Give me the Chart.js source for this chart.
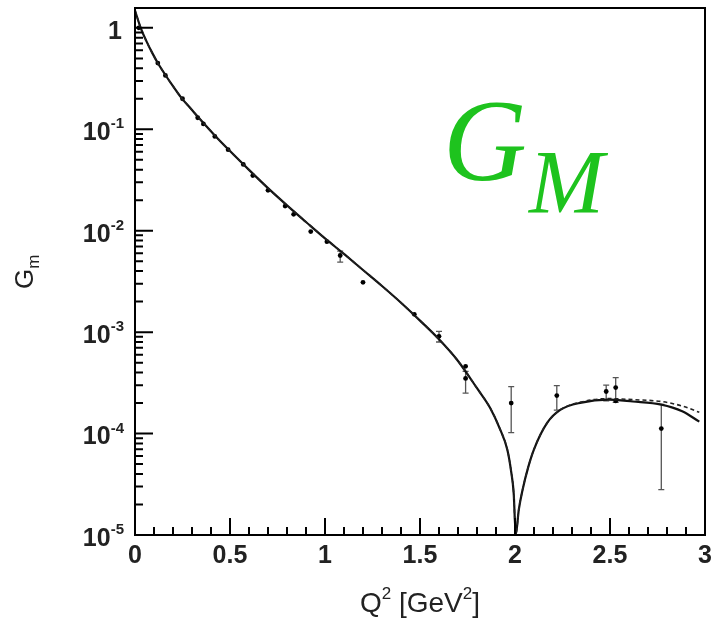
<!DOCTYPE html>
<html lang="en">
<head>
  <meta charset="UTF-8">
  <title>G_M vs Q^2</title>
  <script src="https://cdn.jsdelivr.net/npm/chart.js"></script>
  <style>
    html, body { margin: 0; padding: 0; background: #fff; }
    #wrap { position: relative; width: 715px; height: 625px; }
    .gm { position: absolute; font-family: "Liberation Serif", "Times New Roman", serif; font-style: italic; color: #1ec31e; line-height: 1; white-space: nowrap; }
  </style>
</head>
<body>
  <div id="wrap">
    <canvas id="chart" width="715" height="625"></canvas>
    <span class="gm" style="left:443px; top:83px; font-size:116px;">G</span>
    <span class="gm" style="left:529px; top:138px; font-size:90px;">M</span>
  </div>

  <script>
    // fit curves (solid and dashed)
    const curveX    = [0, 0.03, 0.06, 0.09, 0.12, 0.16, 0.2, 0.24, 0.3, 0.345, 0.42, 0.5, 0.6, 0.7, 0.8, 0.9, 1.0, 1.1, 1.2, 1.3, 1.4, 1.5, 1.6, 1.7, 1.8, 1.87, 1.92, 1.96, 1.98, 1.993, 2.004, 2.02, 2.04, 2.07, 2.1, 2.17, 2.24, 2.35, 2.49, 2.62, 2.77, 2.88, 2.97];
    const fitSolid  = [1.48, 1.0, 0.74, 0.57, 0.45, 0.343, 0.266, 0.209, 0.155, 0.124, 0.087, 0.061, 0.0398, 0.0263, 0.0178, 0.0122, 0.0084, 0.0059, 0.0041, 0.00285, 0.00195, 0.00130, 0.00085, 0.00052, 0.00028, 0.000178, 0.000112, 0.000069, 0.000042, 0.000026, 0.0000101, 0.0000178, 0.000028, 0.000047, 0.000070, 0.000128, 0.000172, 0.000202, 0.000216, 0.000207, 0.000193, 0.000166, 0.000131];
    const fitDashed = [1.48, 1.0, 0.74, 0.57, 0.45, 0.343, 0.266, 0.209, 0.155, 0.124, 0.087, 0.061, 0.0398, 0.0263, 0.0178, 0.0122, 0.0084, 0.0059, 0.0041, 0.00285, 0.00195, 0.00130, 0.00085, 0.00052, 0.00028, 0.000178, 0.000112, 0.000069, 0.000042, 0.000026, 0.0000101, 0.0000178, 0.000028, 0.000047, 0.000070, 0.000128, 0.000172, 0.000205, 0.000221, 0.000216, 0.000207, 0.000187, 0.000162];

    // measured points (null = no visible error bar)
    const dataX   = [0.02, 0.12, 0.16, 0.25, 0.33, 0.36, 0.42, 0.49, 0.57, 0.62, 0.70, 0.79, 0.835, 0.925, 1.01, 1.08, 1.2, 1.47, 1.6, 1.74, 1.74, 1.98, 2.22, 2.48, 2.53, 2.53, 2.77];
    const dataY   = [1.0, 0.45, 0.34, 0.20, 0.13, 0.113, 0.085, 0.063, 0.045, 0.035, 0.025, 0.0175, 0.0145, 0.0098, 0.0078, 0.0057, 0.0031, 0.00150, 0.00091, 0.00046, 0.00035, 0.00020, 0.000237, 0.00026, 0.000284, 0.00021, 0.000112];
    const errLow  = [null, null, null, null, null, null, null, null, null, null, null, null, null, null, null, 0.0049, null, null, 0.00080, null, 0.00025, 0.000102, 0.00017, 0.00021, 0.000203, null, 0.000028];
    const errHigh = [null, null, null, null, null, null, null, null, null, null, null, null, null, null, null, 0.0063, null, null, 0.00102, null, 0.00041, 0.00029, 0.000297, 0.00030, 0.000356, null, 0.000194];

    const xTickLabels = ['0', '0.5', '1', '1.5', '2', '2.5', '3'];
    const yDecades = [-5, -4, -3, -2, -1, 0];

    const pts = (xs, ys) => xs.map((x, i) => ({ x: x, y: ys[i] }));
    const SANS = '"Liberation Sans", Arial, sans-serif';

    const axesPlugin = {
      id: 'axesPlugin',
      beforeDatasetsDraw(chart) {
        const ctx = chart.ctx, xs = chart.scales.x, ys = chart.scales.y;
        ctx.save();
        ctx.strokeStyle = '#555';
        ctx.lineWidth = 1.3;
        dataX.forEach((x, i) => {
          if (errLow[i] == null) return;
          const px = xs.getPixelForValue(x);
          const y1 = ys.getPixelForValue(errLow[i]);
          const y2 = ys.getPixelForValue(errHigh[i]);
          ctx.beginPath();
          ctx.moveTo(px, y1); ctx.lineTo(px, y2);
          ctx.moveTo(px - 3, y1); ctx.lineTo(px + 3, y1);
          ctx.moveTo(px - 3, y2); ctx.lineTo(px + 3, y2);
          ctx.stroke();
        });
        ctx.restore();
      },
      afterDraw(chart) {
        const ctx = chart.ctx, a = chart.chartArea;
        const xs = chart.scales.x, ys = chart.scales.y;
        ctx.save();
        ctx.strokeStyle = '#000';
        ctx.lineWidth = 2;
        ctx.strokeRect(a.left, a.top, a.right - a.left, a.bottom - a.top);

        // ticks pointing inward
        ctx.beginPath();
        for (let i = 0; i <= 30; i++) {
          const px = xs.getPixelForValue(i / 10);
          const len = i % 5 === 0 ? 17 : 8;
          ctx.moveTo(px, a.bottom); ctx.lineTo(px, a.bottom - len);
        }
        yDecades.forEach(k => {
          for (let m = 1; m <= 9; m++) {
            const v = m * Math.pow(10, k);
            if (v > ys.max) break;
            const py = ys.getPixelForValue(v);
            ctx.moveTo(a.left, py); ctx.lineTo(a.left + (m === 1 ? 18 : 8), py);
          }
        });
        ctx.stroke();

        // y tick labels 10^k
        ctx.fillStyle = '#222';
        ctx.textBaseline = 'middle';
        ctx.textAlign = 'left';
        const right = 124;
        yDecades.forEach(k => {
          const py = ys.getPixelForValue(Math.pow(10, k)) + 4;
          ctx.font = 'bold 25px ' + SANS;
          if (k === 0) {
            const w = ctx.measureText('1').width;
            ctx.fillText('1', right - w - 2, py);
            return;
          }
          const w10 = ctx.measureText('10').width;
          ctx.font = 'bold 15px ' + SANS;
          const we = ctx.measureText(String(k)).width;
          const x0 = right - w10 - we;
          ctx.font = 'bold 25px ' + SANS;
          ctx.fillText('10', x0, py);
          ctx.font = 'bold 15px ' + SANS;
          ctx.fillText(String(k), x0 + w10, py - 9);
        });

        // x title: Q^2 [GeV^2]
        const parts = [['Q', 0], ['2', 1], [' [GeV', 0], ['2', 1], [']', 0]];
        const fontFor = sup => (sup ? '17px ' : '28px ') + SANS;
        let total = 0;
        parts.forEach(p => { ctx.font = fontFor(p[1]); total += ctx.measureText(p[0]).width; });
        let tx = 420 - total / 2;
        parts.forEach(p => {
          ctx.font = fontFor(p[1]);
          ctx.fillText(p[0], tx, p[1] ? 594 : 604);
          tx += ctx.measureText(p[0]).width;
        });

        // y title: G_m
        ctx.translate(26, 275);
        ctx.rotate(-Math.PI / 2);
        ctx.font = '26px ' + SANS;
        const wg = ctx.measureText('G').width;
        ctx.fillText('G', -14, 0);
        ctx.font = '17px ' + SANS;
        ctx.fillText('m', -14 + wg, 8);
        ctx.restore();
      }
    };

    new Chart(document.getElementById('chart'), {
      type: 'scatter',
      data: {
        datasets: [
          {
            label: 'fit dashed',
            data: pts(curveX, fitDashed),
            showLine: true,
            borderColor: '#222',
            borderWidth: 1.6,
            borderDash: [4, 3],
            pointRadius: 0,
            cubicInterpolationMode: 'monotone'
          },
          {
            label: 'fit',
            data: pts(curveX, fitSolid),
            showLine: true,
            borderColor: '#111',
            borderWidth: 2.2,
            pointRadius: 0,
            cubicInterpolationMode: 'monotone'
          },
          {
            label: 'data',
            data: pts(dataX, dataY),
            showLine: false,
            pointRadius: 2.4,
            pointBackgroundColor: '#000',
            pointBorderWidth: 0
          }
        ]
      },
      options: {
        responsive: false,
        animation: false,
        layout: { padding: { top: 8, right: 10, left: 0, bottom: 0 } },
        plugins: { legend: { display: false }, tooltip: { enabled: false } },
        scales: {
          x: {
            type: 'linear', min: 0, max: 3,
            grid: { display: false, drawTicks: false },
            border: { display: false },
            ticks: {
              stepSize: 0.5, padding: 6, color: '#222',
              font: { family: SANS, size: 25, weight: 'bold' },
              callback: (v, i) => xTickLabels[i]
            },
            afterFit: s => { s.height = 90; s.paddingLeft = 0; s.paddingRight = 0; }
          },
          y: {
            type: 'logarithmic', min: 1e-5, max: 1.57,
            grid: { display: false, drawTicks: false },
            border: { display: false },
            ticks: { display: false },
            afterFit: s => { s.width = 135; }
          }
        }
      },
      plugins: [axesPlugin]
    });
  </script>
</body>
</html>
